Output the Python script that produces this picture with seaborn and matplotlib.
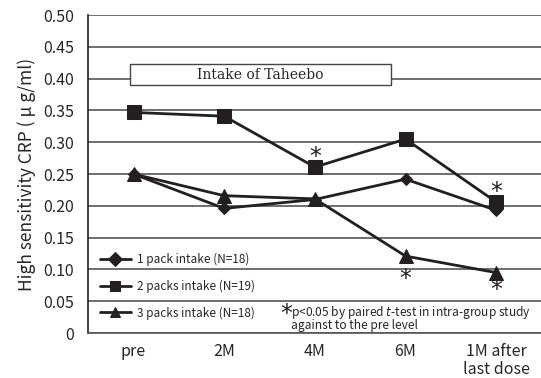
import pandas as pd
import matplotlib.pyplot as plt
import seaborn as sns

sns.set_style("white")
plt.rcParams['font.family'] = ['Noto Sans CJK JP', 'DejaVu Sans']
plt.rcParams['axes.unicode_minus'] = False

periods = ['pre', '2M', '4M', '6M', '1M after\nlast dose']
one_pack = [0.250, 0.196, 0.210, 0.242, 0.193]
two_packs = [0.347, 0.341, 0.261, 0.305, 0.206]
three_packs = [0.250, 0.216, 0.211, 0.121, 0.095]
group_labels = ['1 pack intake (N=18)', '2 packs intake (N=19)', '3 packs intake (N=18)']
markers = ['D', 's', '^']
marker_sizes = [6, 10, 10]

# significance marks: (period index, y position of star centre)
sig_marks = [(2, 0.280), (4, 0.226), (3, 0.089), (4, 0.071)]

df = pd.DataFrame({
    'period': list(range(len(periods))) * 3,
    'crp': one_pack + two_packs + three_packs,
    'group': sum([[g] * len(periods) for g in group_labels], []),
})

fig = plt.figure(figsize=(5.41, 3.78), dpi=100, facecolor='w')
ax = fig.add_axes([0.163, 0.119, 0.838, 0.841])

for s in ["right", "top"]:
    ax.spines[s].set_visible(False)
ax.spines['left'].set_linewidth(1.2)
ax.spines['bottom'].set_linewidth(1.2)
ax.spines['left'].set_color('#231f20')
ax.spines['bottom'].set_color('#555555')

ax.set_ylim(0, 0.5)
ax.set_xlim(-0.5, 4.5)
ax.set_yticks([i * 0.05 for i in range(11)])
ax.set_yticklabels(['0'] + [f'{i * 0.05:.2f}' for i in range(1, 11)], fontsize=11.5)
ax.grid(axis='y', color='#555555', linewidth=1.2)
ax.set_axisbelow(True)
ax.tick_params(axis='y', length=8, width=1.2, color='#231f20', pad=2)

ax.set_xticks(range(len(periods)))
ax.set_xticklabels(periods, fontsize=11.5, linespacing=1.1)
ax.set_xticks([0.5, 1.5, 2.5, 3.5], minor=True)
ax.tick_params(axis='x', which='major', length=0, pad=7)
ax.tick_params(axis='x', which='minor', length=6, width=1, color='#888888')

for g, m, ms in zip(group_labels, markers, marker_sizes):
    sns.lineplot(data=df[df['group'] == g], x='period', y='crp', ax=ax,
                 color='#231f20', linewidth=2, marker=m, markersize=ms,
                 markeredgecolor='#231f20', markerfacecolor='#231f20',
                 label=g, zorder=3)

leg = ax.legend(loc='lower left', bbox_to_anchor=(0.0, 0.005), frameon=False,
                fontsize=8.5, handlelength=2.6, labelspacing=1.15,
                borderaxespad=0.6, handletextpad=0.5)
for h in leg.legend_handles:
    h.set_markersize(7)

# intake box
ax.add_patch(plt.Rectangle((-0.04, 0.39), 2.88, 0.033, facecolor='white',
                           edgecolor='#444444', linewidth=1, zorder=4))
ax.text(1.4, 0.4065, 'Intake of Taheebo', ha='center', va='center',
        fontsize=10, family='DejaVu Serif', zorder=5)

for xi, yi in sig_marks:
    ax.text(xi, yi, '*', ha='center', va='center_baseline', fontsize=17,
            family='DejaVu Sans', color='#231f20')

ax.text(1.68, 0.034, '*', ha='center', va='center_baseline', fontsize=17,
        family='DejaVu Sans', color='#231f20')
ax.text(1.74, 0.023, 'p<0.05 by paired $\\it{t}$-test in intra-group study\nagainst to the pre level',
        ha='left', va='center', fontsize=8.6, linespacing=0.8)

ax.set_xlabel('')
ax.set_ylabel('High sensitivity CRP ( μ g/ml)', fontsize=12.5, labelpad=5)

fig.savefig('out.png', dpi=100)
